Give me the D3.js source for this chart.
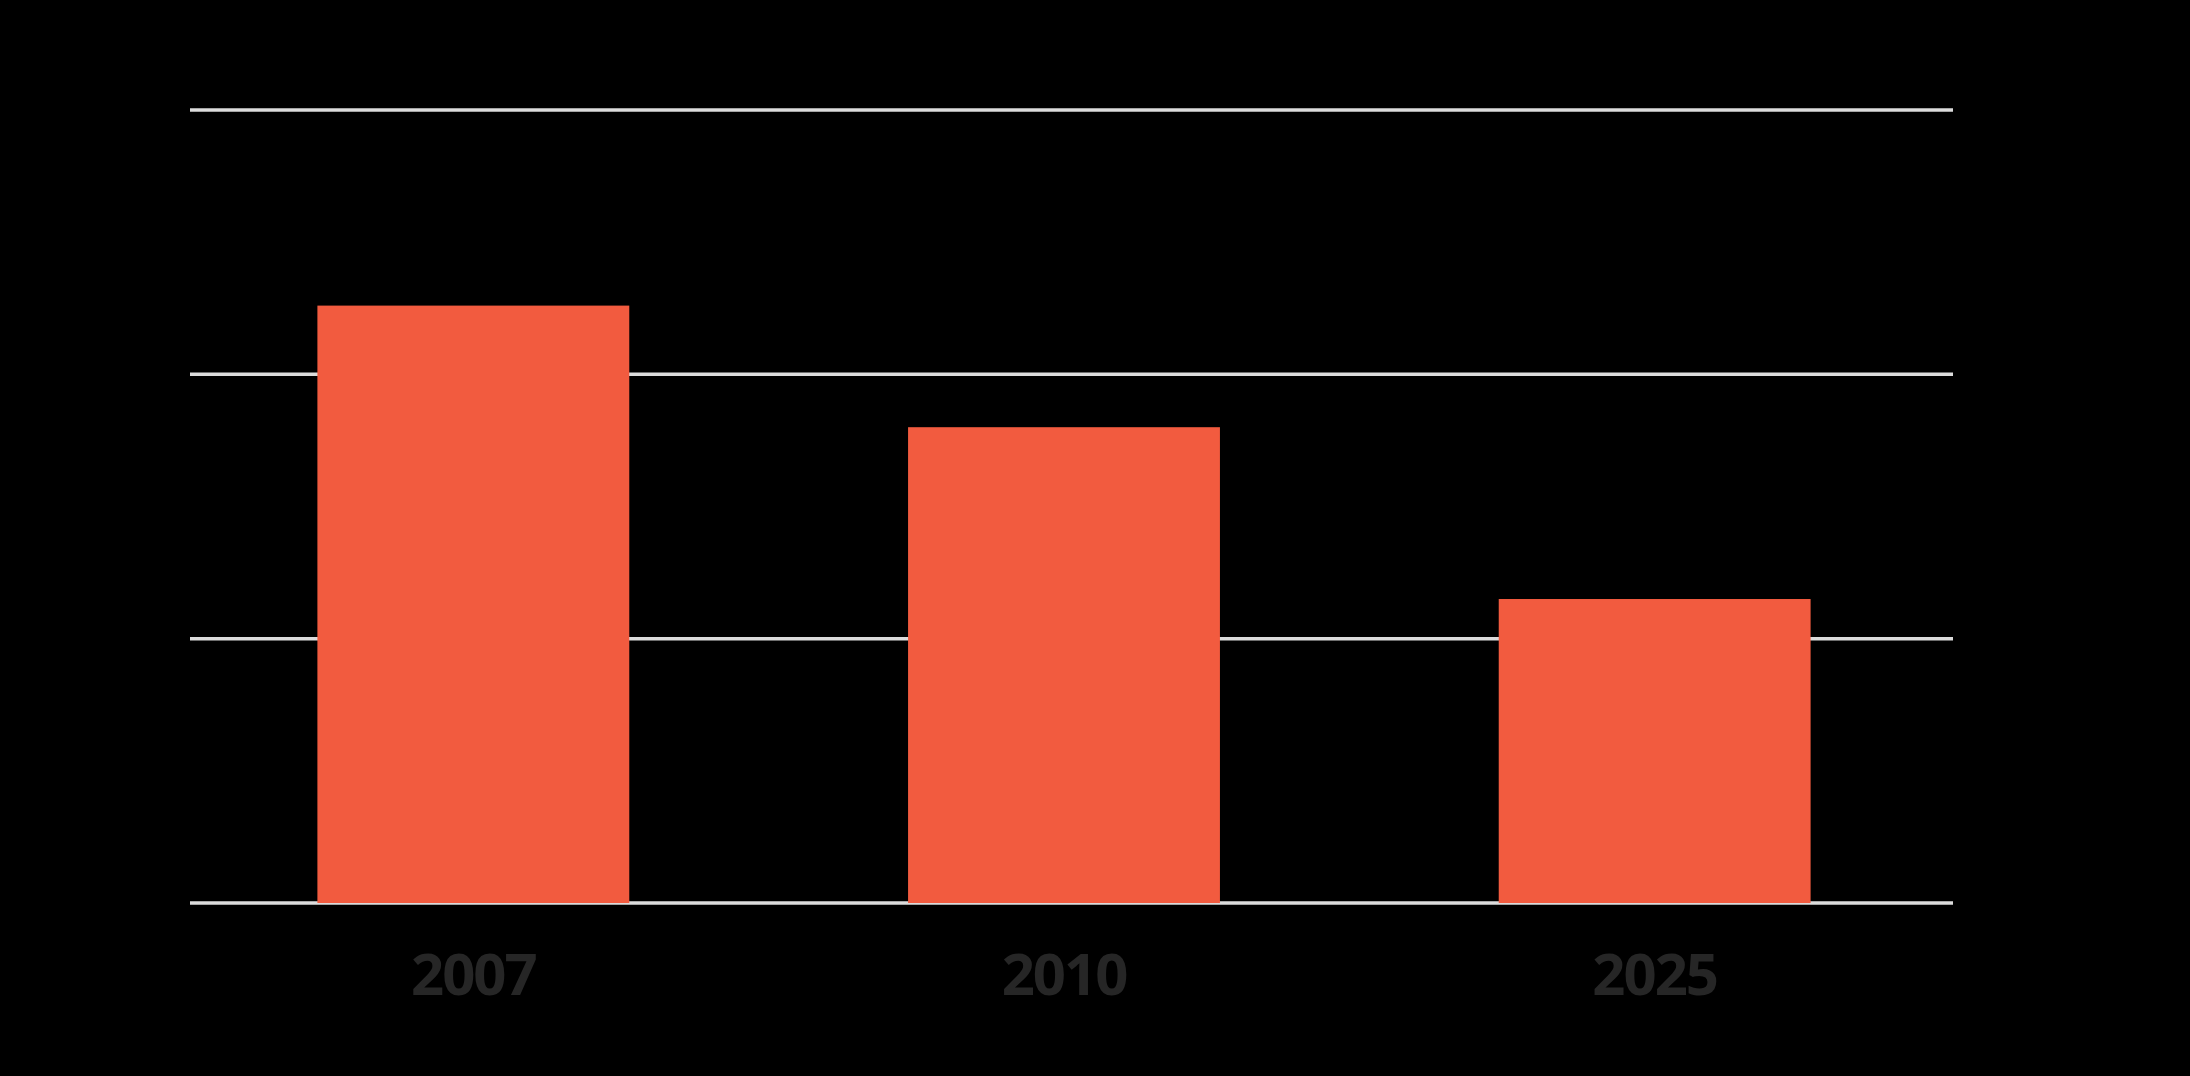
<!DOCTYPE html>
<html lang="en">
<head>
    <meta charset="UTF-8">
    <title>Bar chart</title>
    <script src="https://d3js.org/d3.v7.min.js"></script>
    <style>
        html, body { margin: 0; padding: 0; background: #000; }
        svg { display: block; }
    </style>
</head>
<body>
    <svg width="2190" height="1076"></svg>
    <script>
        // Data
        const years = ["2007", "2010", "2025"];
        const values = [22.6, 18.0, 11.5];
        const gridTicks = [0, 10, 20, 30];

        const svg = d3.select("svg");

        // Background
        svg.append("rect")
            .attr("width", 2190)
            .attr("height", 1076)
            .attr("fill", "#000");

        // Scales
        const x = d3.scaleBand()
            .domain(years)
            .range([178, 1950])
            .paddingInner(0.472)
            .paddingOuter(0.236);

        const y = d3.scaleLinear()
            .domain([0, 30])
            .range([903, 110]);

        // Gridlines
        svg.append("g")
            .selectAll("line")
            .data(gridTicks)
            .enter()
            .append("line")
                .attr("x1", 190)
                .attr("x2", 1953)
                .attr("y1", d => y(d))
                .attr("y2", d => y(d))
                .attr("stroke", "#dcdcdc")
                .attr("stroke-width", 3.5);

        // Bars
        svg.append("g")
            .selectAll("rect")
            .data(values)
            .enter()
            .append("rect")
                .attr("x", (d, i) => x(years[i]))
                .attr("y", d => y(d))
                .attr("width", x.bandwidth())
                .attr("height", d => y(0) - y(d))
                .attr("fill", "#f25b3f");

        // Category labels
        const xAxis = svg.append("g")
            .attr("transform", `translate(0,${y(0)})`)
            .call(d3.axisBottom(x).tickSize(0).tickPadding(0));

        xAxis.select(".domain").remove();
        xAxis.selectAll("text")
            .attr("y", 92)
            .attr("dy", 0)
            .attr("fill", "#262626")
            .attr("font-family", "'Noto Sans', sans-serif")
            .attr("font-weight", "bold")
            .attr("font-size", "58px")
            .attr("letter-spacing", "-2px");
    </script>
</body>
</html>
